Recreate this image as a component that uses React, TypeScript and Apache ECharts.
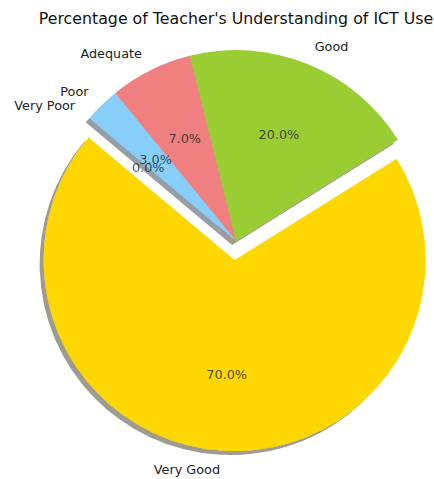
import React, { useEffect, useRef } from "react";
import * as echarts from "echarts";

const TITLE = "Percentage of Teacher's Understanding of ICT Use";
const categories = ["Very Good", "Good", "Adequate", "Poor", "Very Poor"];
const values = [70, 20, 7, 3, 0];
const colors = ["#FFD700", "#9ACD32", "#F08080", "#87CEFA", "#A9A9A9"];
const shadowColors = [
  "rgba(60,56,30,0.5)",
  "rgba(46,61,15,0.5)",
  "rgba(72,38,38,0.5)",
  "rgba(40,62,75,0.5)",
  "rgba(50,50,50,0.5)",
];
const exploded = [true, false, false, false, false];

const FONT = "DejaVu Sans";
const CX = 236;
const CY = 241;
const R = 191;
const EXPLODE = 0.1; // fraction of radius
const PCT_DIST = 0.6; // fraction of radius

export default function App() {
  const ref = useRef<HTMLDivElement>(null);
  useEffect(() => {
    document.body.style.margin = "0";
    const chart = echarts.init(ref.current!, null, { renderer: "svg" });
    const total = values.reduce((a, b) => a + b, 0);
    const pct = (i: number) => ((values[i] / total) * 100).toFixed(1) + "%";
    // mid-angle of every slice, in the same value units as the pie (cumulative share)
    let acc = 0;
    const pctPoints = values.map((v, i) => {
      const mid = acc + v / 2;
      acc += v;
      return [PCT_DIST + (exploded[i] ? EXPLODE : 0), mid];
    });
    const hidden = {
      axisLine: { show: false },
      axisTick: { show: false },
      axisLabel: { show: false },
      splitLine: { show: false },
    };
    chart.setOption({
      animation: false,
      backgroundColor: "#ffffff",
      graphic: [
        {
          type: "text",
          x: CX,
          y: 10,
          style: {
            text: TITLE,
            fontFamily: FONT,
            fontSize: 15.8,
            fill: "#111",
            textAlign: "center",
            textVerticalAlign: "top",
          },
        },
      ],
      polar: { center: [CX, CY], radius: R },
      angleAxis: {
        type: "value",
        min: 0,
        max: total,
        startAngle: 140,
        clockwise: false,
        ...hidden,
      },
      radiusAxis: { type: "value", min: 0, max: 1, ...hidden },
      series: [
        {
          type: "pie",
          center: [CX, CY],
          radius: R,
          startAngle: 140,
          clockwise: false,
          selectedMode: "single",
          selectedOffset: EXPLODE * R,
          avoidLabelOverlap: false,
          silent: true,
          emphasis: { disabled: true },
          label: {
            show: true,
            position: "outside",
            formatter: "{b}",
            fontFamily: FONT,
            fontSize: 12.8,
            color: "#222",
            distanceToLabelLine: 0,
            alignTo: "none",
          },
          labelLine: { show: false, length: 0.1 * R, length2: 0 },
          data: categories.map((name, i) => ({
            name,
            value: values[i],
            selected: exploded[i],
            itemStyle: {
              color: colors[i],
              shadowColor: shadowColors[i],
              shadowBlur: 0,
              shadowOffsetX: -4,
              shadowOffsetY: 4,
            },
            select: { itemStyle: { color: colors[i] } },
          })),
        },
        {
          type: "scatter",
          coordinateSystem: "polar",
          z: 10,
          symbolSize: 1,
          silent: true,
          itemStyle: { color: "rgba(0,0,0,0)" },
          emphasis: { disabled: true },
          label: {
            show: true,
            position: "inside",
            formatter: (p: any) => pct(p.dataIndex),
            fontFamily: FONT,
            fontSize: 12.8,
            color: "#222",
          },
          data: pctPoints,
        },
      ],
    });
    return () => chart.dispose();
  }, []);
  return <div ref={ref} style={{ width: 434, height: 479 }} />;
}
